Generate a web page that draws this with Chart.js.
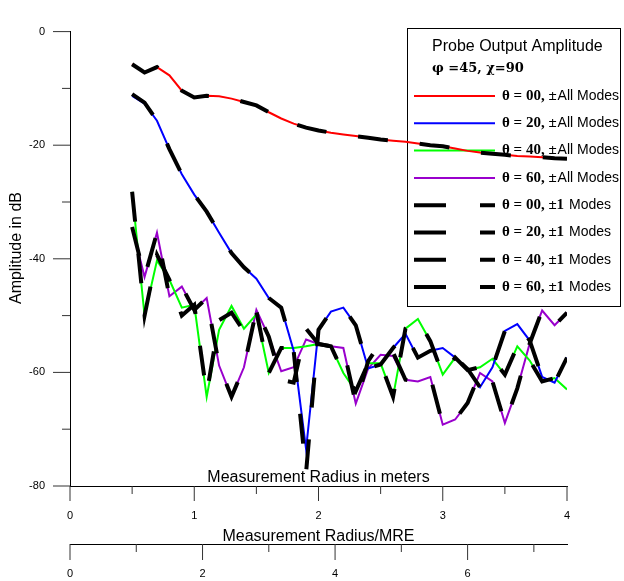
<!DOCTYPE html>
<html><head><meta charset="utf-8">
<script src="https://cdn.jsdelivr.net/npm/chart.js@4.4.0/dist/chart.umd.min.js"></script>
<style>html,body{margin:0;padding:0;background:#fff;overflow:hidden}</style>
</head><body>
<canvas id="c" width="624" height="581" style="display:block;width:624px;height:581px"></canvas>
<script>
// ---------- data ----------
const radiusMeters = [0.5,0.6,0.7,0.8,0.9,1.0,1.1,1.2,1.3,1.4,1.5,1.6,1.7,1.8,1.9,2.0,2.1,2.2,2.3,2.4,2.5,2.6,2.7,2.8,2.9,3.0,3.1,3.2,3.3,3.4,3.5,3.6,3.7,3.8,3.9,4.0];

const ampAllTheta00 = [-5.75,-7.2,-6.25,-7.7,-10.4,-11.6,-11.3,-11.4,-11.8,-12.4,-13.0,-14.2,-15.3,-16.2,-16.9,-17.4,-17.8,-18.1,-18.4,-18.7,-19.0,-19.2,-19.4,-19.7,-20.0,-20.2,-20.6,-21.0,-21.3,-21.5,-21.7,-21.9,-22.0,-22.1,-22.3,-22.4];
const ampAllTheta20 = [-11.3,-12.7,-15.7,-20.7,-25.1,-28.7,-31.7,-35.4,-39.0,-41.5,-43.5,-46.9,-48.6,-56.2,-73.5,-52.5,-49.3,-48.6,-51.7,-59.3,-58.6,-55.7,-53.2,-57.4,-56.2,-55.7,-57.4,-59.4,-62.6,-59.1,-52.7,-51.5,-54.4,-60.8,-61.8,-57.4];
const ampAllTheta40 = [-28.2,-50.0,-40.3,-43.7,-48.6,-48.1,-64.3,-52.5,-48.3,-52.3,-49.8,-60.1,-55.7,-55.7,-55.4,-55.0,-55.4,-60.1,-63.3,-58.4,-58.4,-64.3,-52.3,-50.6,-54.5,-60.4,-57.4,-59.6,-59.1,-57.6,-60.4,-55.4,-57.9,-61.6,-61.0,-63.0];
const ampAllTheta60 = [-34.4,-43.2,-35.4,-46.6,-44.9,-49.0,-46.9,-58.8,-64.3,-59.1,-49.0,-53.7,-59.8,-59.1,-54.2,-55.0,-55.4,-55.7,-65.5,-59.3,-56.9,-57.1,-61.3,-61.6,-60.8,-69.2,-68.3,-65.4,-60.1,-61.6,-68.9,-62.8,-54.9,-49.1,-51.7,-49.5];

const amp1Theta00 = [-5.75,-7.2,-6.25,-7.7,-10.4,-11.6,-11.3,-11.4,-11.8,-12.4,-13.0,-14.2,-15.3,-16.2,-16.9,-17.4,-17.8,-18.1,-18.4,-18.7,-19.0,-19.2,-19.4,-19.7,-20.0,-20.2,-20.6,-21.0,-21.3,-21.5,-21.7,-21.9,-22.0,-22.1,-22.3,-22.4];
const amp1Theta20 = [-11.0,-12.5,-15.7,-20.7,-25.1,-28.7,-31.7,-35.4,-39.0,-41.5,-43.5,-46.9,-48.6,-56.2,-77.6,-52.5,-49.3,-48.6,-51.7,-59.3,-58.6,-55.7,-53.2,-57.4,-56.2,-55.7,-57.4,-59.4,-62.6,-59.1,-52.7,-51.5,-54.4,-60.8,-61.8,-57.4];
const amp1Theta40 = [-28.2,-50.0,-39.3,-43.7,-50.0,-48.1,-63.8,-50.8,-49.5,-52.8,-49.2,-60.1,-55.7,-55.7,-55.4,-55.0,-55.4,-60.1,-63.3,-58.4,-58.4,-64.3,-52.3,-50.6,-54.5,-60.4,-57.4,-59.6,-59.1,-57.6,-60.4,-55.4,-57.9,-61.6,-61.0,-63.0];
const amp1Theta60 = [-34.4,-43.2,-35.4,-46.6,-44.9,-49.0,-46.9,-58.8,-64.3,-59.1,-49.0,-53.7,-61.3,-61.8,-52.3,-55.0,-55.4,-55.7,-65.5,-58.0,-54.7,-56.5,-61.3,-61.6,-60.8,-69.2,-68.3,-65.4,-60.1,-61.6,-68.9,-62.8,-54.9,-49.1,-51.7,-49.5];

const xTickValues = [0,1,2,3,4];
const xMinorTickValues = [0.5,1.5,2.5,3.5];
const x2TickValues = [0,2,4,6];
const x2MinorTickValues = [1,3,5,7];
const yTickValues = [0,-20,-40,-60,-80];
const yMinorTickValues = [-10,-30,-50,-70];

const legendTitle = 'Probe Output Amplitude';
const legendSubtitle = 'φ =45, χ=90';
const legendMath = ['θ = 00, ±','θ = 20, ±','θ = 40, ±','θ = 60, ±','θ = 00, ±1','θ = 20, ±1','θ = 40, ±1','θ = 60, ±1'];
const legendText = ['All Modes','All Modes','All Modes','All Modes',' Modes',' Modes',' Modes',' Modes'];

const yTitle = 'Amplitude in dB';
const xTitle = 'Measurement Radius in meters';
const x2Title = 'Measurement Radius/MRE';

// ---------- chart ----------
const colors = ['#ff0000','#0000ff','#00ff00','#9900cc'];
const seriesAll = [ampAllTheta00, ampAllTheta20, ampAllTheta40, ampAllTheta60];
const series1 = [amp1Theta00, amp1Theta20, amp1Theta40, amp1Theta60];
const toPts = arr => arr.map((v,i)=>({x: radiusMeters[i], y: v}));

const datasets = [];
seriesAll.forEach((s,i)=>datasets.push({label: legendMath[i]+legendText[i], data: toPts(s), borderColor: colors[i], borderWidth: 2, pointRadius: 0, order: 2, fill:false, tension:0}));
series1.forEach((s,i)=>datasets.push({label: legendMath[i+4]+legendText[i+4], data: toPts(s), borderColor: '#000', borderWidth: 4, borderDash:[30,32], borderCapStyle:'butt', pointRadius: 0, order: 1, fill:false, tension:0}));

const FONT = 'Arial, "Liberation Sans", sans-serif';
const MATH = '"Liberation Serif", "DejaVu Serif", serif';

const deco = {
  id: 'deco',
  beforeDatasetsDraw(chart) {
    const ctx = chart.ctx;
    ctx.save();
    ctx.strokeStyle = '#000'; ctx.lineWidth = 1;
    ctx.strokeRect(407.5, 28.5, 213, 278);
    ctx.fillStyle = '#000';
    ctx.textBaseline = 'alphabetic'; ctx.textAlign = 'left';
    ctx.font = '16px ' + FONT;
    ctx.fillText(legendTitle, 432, 51);
    ctx.font = 'bold 13px "DejaVu Serif", serif';
    ctx.fillText(legendSubtitle, 432, 72);
    const y0 = 96, step = 27.3;
    chart.data.datasets.forEach((ds, i) => {
      const yy = y0 + i*step;
      ctx.save();
      ctx.strokeStyle = ds.borderColor; ctx.lineWidth = ds.borderWidth;
      ctx.lineCap = 'butt';
      if (ds.borderDash) ctx.setLineDash([32,34]);
      ctx.beginPath(); ctx.moveTo(414, yy); ctx.lineTo(495, yy); ctx.stroke();
      ctx.restore();
      ctx.textBaseline = 'middle';
      ctx.font = 'bold 15px ' + MATH;
      ctx.fillText(legendMath[i], 502, yy);
      const w = ctx.measureText(legendMath[i]).width;
      ctx.font = '14px ' + FONT;
      ctx.fillText(legendText[i], 502 + w + 1, yy);
    });
    ctx.restore();
  },
  afterDraw(chart) {
    const {ctx, chartArea, scales:{x, x2, y}} = chart;
    ctx.save();
    ctx.strokeStyle = '#333'; ctx.lineWidth = 1;
    const seg = (a,b,c,d)=>{ctx.beginPath();ctx.moveTo(a,b);ctx.lineTo(c,d);ctx.stroke();};
    yTickValues.forEach(v=>{const p=y.getPixelForValue(v); seg(53,p,chartArea.left,p);});
    yMinorTickValues.forEach(v=>{const p=y.getPixelForValue(v); seg(62,p,chartArea.left,p);});
    const xb = x.top;
    xTickValues.forEach(v=>{const p=x.getPixelForValue(v); seg(p,xb,p,xb+15);});
    xMinorTickValues.forEach(v=>{const p=x.getPixelForValue(v); seg(p,xb,p,xb+8);});
    const x2b = x2.top;
    x2TickValues.forEach(v=>{const p=x2.getPixelForValue(v); seg(p,x2b,p,x2b+16);});
    x2MinorTickValues.forEach(v=>{const p=x2.getPixelForValue(v); seg(p,x2b,p,x2b+8);});
    ctx.fillStyle = '#000';
    ctx.font = '16px ' + FONT;
    ctx.textAlign = 'center'; ctx.textBaseline = 'alphabetic';
    const cx = (chartArea.left + chartArea.right)/2;
    ctx.fillText(xTitle, cx, xb - 4);
    ctx.fillText(x2Title, cx, x2b - 3);
    ctx.save();
    ctx.translate(17, 248); ctx.rotate(-Math.PI/2);
    ctx.textBaseline = 'middle';
    ctx.fillText(yTitle, 0, 0);
    ctx.restore();
    ctx.restore();
  }
};

const tickFont = {family: FONT, size: 11};
new Chart(document.getElementById('c'), {
  type: 'line',
  data: { datasets },
  options: {
    responsive: false, animation: false, devicePixelRatio: 1,
    layout: { padding: { left: 0, right: 57, top: 12, bottom: 0 } },
    plugins: { legend: { display: false }, tooltip: { enabled: false } },
    scales: {
      x: { type: 'linear', position: 'bottom', min: 0, max: 4,
        afterBuildTicks: s => { s.ticks = xTickValues.map(v=>({value:v})); },
        ticks: { font: tickFont, color: '#000', padding: 23, maxRotation: 0, autoSkip: false },
        grid: { display: false, drawTicks: false },
        border: { display: true, color: '#000', width: 1 },
        afterFit: s => { s.height = 58; } },
      x2: { type: 'linear', position: 'bottom', min: 0, max: 7.5,
        afterBuildTicks: s => { s.ticks = x2TickValues.map(v=>({value:v})); },
        ticks: { font: tickFont, color: '#000', padding: 23, maxRotation: 0, autoSkip: false },
        grid: { display: false, drawTicks: false },
        border: { display: true, color: '#000', width: 1 },
        afterFit: s => { s.height = 37; } },
      y: { type: 'linear', position: 'left', min: -80, max: 0,
        afterBuildTicks: s => { s.ticks = yTickValues.map(v=>({value:v})); },
        ticks: { font: tickFont, color: '#000', padding: 25, autoSkip: false },
        grid: { display: false, drawTicks: false },
        border: { display: true, color: '#000', width: 1 },
        afterFit: s => { s.width = 70; } }
    }
  },
  plugins: [deco]
});
</script>
</body></html>
